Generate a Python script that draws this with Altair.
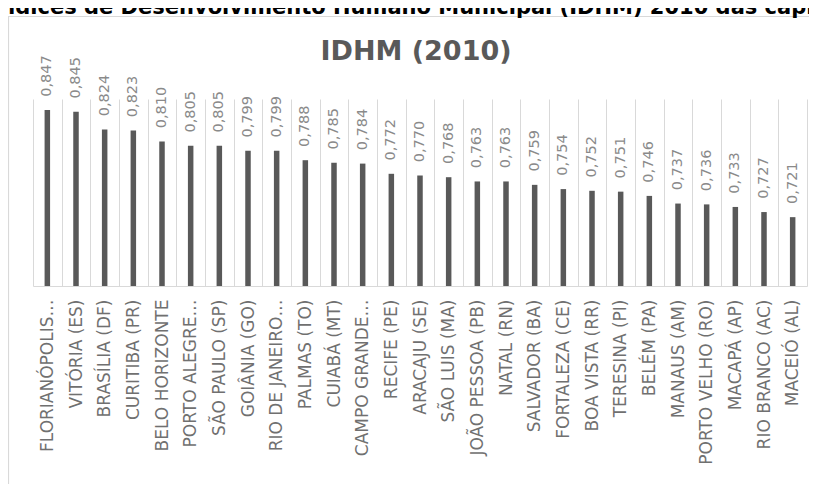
import altair as alt
import pandas as pd

cities = [
    "FLORIANÓPOLIS…", "VITÓRIA (ES)", "BRASÍLIA (DF)", "CURITIBA (PR)",
    "BELO HORIZONTE", "PORTO ALEGRE…", "SÃO PAULO (SP)", "GOIÂNIA (GO)",
    "RIO DE JANEIRO…", "PALMAS (TO)", "CUIABÁ (MT)", "CAMPO GRANDE…",
    "RECIFE (PE)", "ARACAJU (SE)", "SÃO LUIS (MA)", "JOÃO PESSOA (PB)",
    "NATAL (RN)", "SALVADOR (BA)", "FORTALEZA (CE)", "BOA VISTA (RR)",
    "TERESINA (PI)", "BELÉM (PA)", "MANAUS (AM)", "PORTO VELHO (RO)",
    "MACAPÁ (AP)", "RIO BRANCO (AC)", "MACEIÓ (AL)",
]
idhm = [
    0.847, 0.845, 0.824, 0.823, 0.810, 0.805, 0.805, 0.799, 0.799, 0.788,
    0.785, 0.784, 0.772, 0.770, 0.768, 0.763, 0.763, 0.759, 0.754, 0.752,
    0.751, 0.746, 0.737, 0.736, 0.733, 0.727, 0.721,
]
chart_title = ["IDHM (2010)"]
page_heading = ["Índices de Desenvolvimento Humano Municipal (IDHM) 2010 das capitais"]
y_domain = [0.64, 0.86]

df = pd.DataFrame({"cidade": cities, "idhm": idhm})
df["rotulo"] = [f"{v:.3f}".replace(".", ",") for v in idhm]

W, H = 774, 187
FONT = "DejaVu Sans"

x_enc = alt.X(
    "cidade:N",
    sort=None,
    scale=alt.Scale(paddingInner=0, paddingOuter=0),
    axis=alt.Axis(
        title=None,
        labelAngle=270,
        labelAlign="right",
        labelBaseline="middle",
        labelFont=FONT,
        labelFontSize=17,
        labelColor="#707070",
        labelPadding=13,
        labelLimit=400,
        ticks=False,
        domainColor="#d9d9d9",
        grid=True,
        gridColor="#d9d9d9",
        gridWidth=1,
        tickBand="extent",
    ),
)
y_enc = alt.Y(
    "idhm:Q",
    scale=alt.Scale(domain=y_domain, zero=False, nice=False),
    axis=None,
)

bars = alt.Chart(df).mark_bar(size=5.5, color="#595959").encode(
    x=x_enc, y=y_enc, y2=alt.datum(y_domain[0])
)

values = alt.Chart(df).mark_text(
    angle=270, align="center", baseline="middle", dx=34,
    font=FONT, fontSize=14.5, color="#8a8a8a",
).encode(x=x_enc, y=y_enc, text="rotulo:N")

frame = alt.Chart(pd.DataFrame({"k": [0]})).mark_rect(
    fillOpacity=0, stroke="#d9d9d9", strokeWidth=1.2
).encode(
    x=alt.value(-24.5), x2=alt.value(820), y=alt.value(-82.5), y2=alt.value(520)
)

heading = alt.Chart(pd.DataFrame({"t": page_heading})).mark_text(
    align="left", baseline="alphabetic", font=FONT, fontSize=21,
    fontWeight="bold", color="#000000",
).encode(x=alt.value(-40.5), y=alt.value(-85), text="t:N")

title = alt.Chart(pd.DataFrame({"t": chart_title})).mark_text(
    align="center", baseline="alphabetic", font=FONT, fontSize=27,
    fontWeight="bold", color="#595959",
).encode(x=alt.value(383), y=alt.value(-39), text="t:N")

chart = (
    alt.layer(frame, heading, title, bars, values)
    .properties(
        width=W,
        height=H,
        padding={"left": 25, "top": 91, "right": 2, "bottom": 198},
        autosize=alt.AutoSizeParams(type="none"),
        background="white",
    )
    .configure_view(strokeWidth=0)
)

chart.save("out.html", embed_options={"renderer": "svg", "actions": False})
